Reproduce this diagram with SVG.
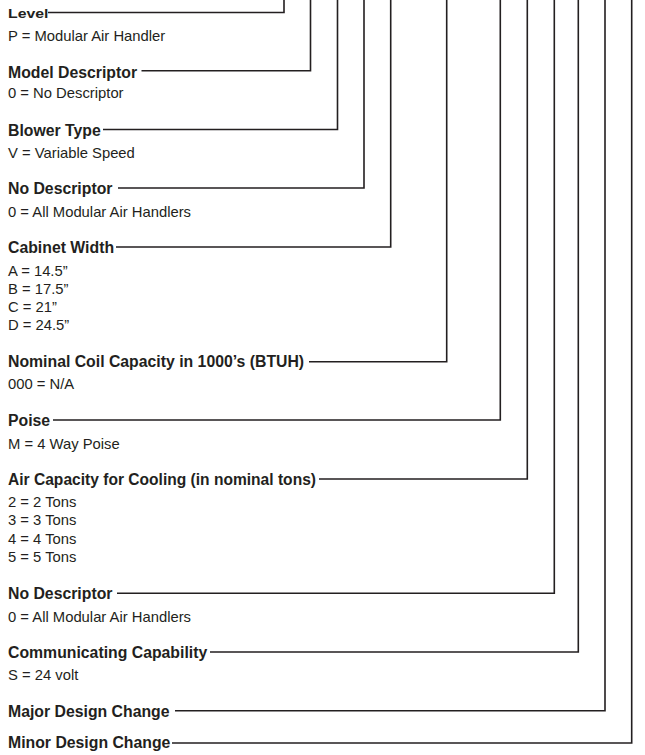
<svg xmlns="http://www.w3.org/2000/svg" width="645" height="755" viewBox="0 0 645 755">
<style>
.t{font-family:"Liberation Sans",Arial,sans-serif;font-weight:bold;font-size:15.8px;fill:#231f20}
.d{font-family:"Liberation Sans",Arial,sans-serif;font-size:14.8px;fill:#231f20}
.c{fill:none;stroke:#231f20;stroke-width:1.6;stroke-linejoin:miter}
</style>
<rect width="645" height="755" fill="#fff"/>
<g id="connectors">
<polyline class="c" points="48,12.5 284,12.5 284,0"/>
<polyline class="c" points="141.5,70.7 310.5,70.7 310.5,0"/>
<polyline class="c" points="103,129.5 337.5,129.5 337.5,0"/>
<polyline class="c" points="118,188 364,188 364,0"/>
<polyline class="c" points="116,247 390.7,247 390.7,0"/>
<polyline class="c" points="309,361.7 446.7,361.7 446.7,0"/>
<polyline class="c" points="53,420 500.3,420 500.3,0"/>
<polyline class="c" points="319,479 527.3,479 527.3,0"/>
<polyline class="c" points="117,593.3 554.3,593.3 554.3,0"/>
<polyline class="c" points="210,652 578.3,652 578.3,0"/>
<polyline class="c" points="175,710.7 605,710.7 605,0"/>
<polyline class="c" points="172,743 631.7,743 631.7,0"/>
</g>
<g id="level">
<text class="t" transform="translate(8,17.6) scale(1,0.82)">Level</text>
<text class="d" x="8" y="40.5">P = Modular Air Handler</text>
</g>
<g id="model-descriptor">
<text class="t" x="8" y="77.7">Model Descriptor</text>
<text class="d" x="8" y="98.3">0 = No Descriptor</text>
</g>
<g id="blower-type">
<text class="t" x="8" y="135.7">Blower Type</text>
<text class="d" x="8" y="157.7">V = Variable Speed</text>
</g>
<g id="no-descriptor-1">
<text class="t" x="8" y="194.3">No Descriptor</text>
<text class="d" x="8" y="216.7">0 = All Modular Air Handlers</text>
</g>
<g id="cabinet-width">
<text class="t" x="8" y="252.7">Cabinet Width</text>
<text class="d" x="8" y="276">A = 14.5”</text>
<text class="d" x="8" y="294">B = 17.5”</text>
<text class="d" x="8" y="312">C = 21”</text>
<text class="d" x="8" y="330">D = 24.5”</text>
</g>
<g id="nominal-coil">
<text class="t" x="8" y="366.7">Nominal Coil Capacity in 1000’s (BTUH)</text>
<text class="d" x="8" y="389.3">000 = N/A</text>
</g>
<g id="poise">
<text class="t" x="8" y="426">Poise</text>
<text class="d" x="8" y="449.3">M = 4 Way Poise</text>
</g>
<g id="air-capacity">
<text class="t" x="8" y="485" textLength="308" lengthAdjust="spacingAndGlyphs">Air Capacity for Cooling (in nominal tons)</text>
<text class="d" x="8" y="506.7">2 = 2 Tons</text>
<text class="d" x="8" y="525">3 = 3 Tons</text>
<text class="d" x="8" y="543.5">4 = 4 Tons</text>
<text class="d" x="8" y="562">5 = 5 Tons</text>
</g>
<g id="no-descriptor-2">
<text class="t" x="8" y="599.3">No Descriptor</text>
<text class="d" x="8" y="621.7">0 = All Modular Air Handlers</text>
</g>
<g id="communicating">
<text class="t" x="8" y="657.7">Communicating Capability</text>
<text class="d" x="8" y="680">S = 24 volt</text>
</g>
<g id="major-design">
<text class="t" x="8" y="716.7">Major Design Change</text>
</g>
<g id="minor-design">
<text class="t" x="8" y="748.3">Minor Design Change</text>
</g>
</svg>
